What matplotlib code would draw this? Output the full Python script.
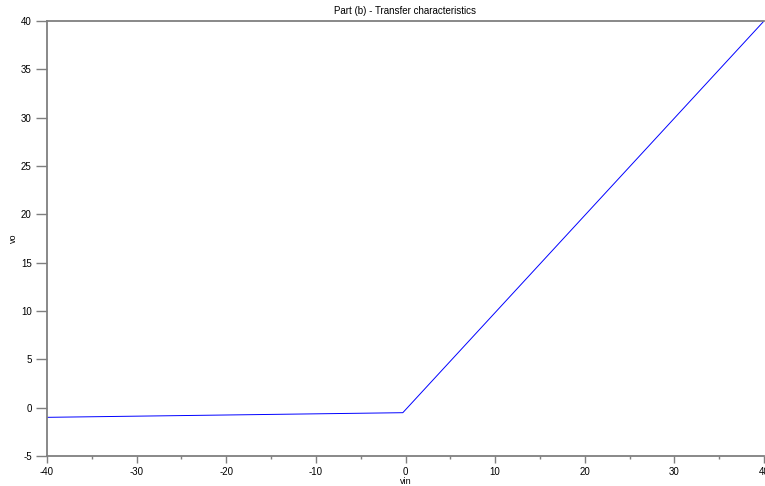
import matplotlib
matplotlib.use('Agg')
import matplotlib.pyplot as plt
from matplotlib.ticker import MultipleLocator

plt.rcParams['font.family'] = ['Liberation Sans', 'DejaVu Sans']
plt.rcParams['axes.unicode_minus'] = False

# transfer characteristic values
vin = [-40, -0.3, 40]
vo = [-1.0, -0.52, 40]

xticks = [-40, -30, -20, -10, 0, 10, 20, 30, 40]
yticks = [-5, 0, 5, 10, 15, 20, 25, 30, 35, 40]

W, H = 765, 486
fig = plt.figure(figsize=(W / 100, H / 100), dpi=100)
left, right, top, bottom = 47, 764, 21, 456
ax = fig.add_axes([left / W, 1 - bottom / H, (right - left) / W, (bottom - top) / H])

ax.plot(vin, vo, color='#0000ff', lw=0.7)

ax.set_xlim(-40, 40)
ax.set_ylim(-5, 40)
ax.set_xticks(xticks)
ax.set_yticks(yticks)
ax.xaxis.set_minor_locator(MultipleLocator(5))

grey = '#7f7f7f'
for s in ['left', 'bottom', 'top']:
    ax.spines[s].set_color(grey)
    ax.spines[s].set_linewidth(1.3)
ax.spines['right'].set_visible(False)

ax.tick_params(axis='x', which='major', length=5, width=1, color=grey, pad=3, labelsize=7)
ax.tick_params(axis='x', which='minor', length=2.5, width=1, color=grey)
ax.tick_params(axis='y', which='major', length=8, width=1, color=grey, pad=3, labelsize=7)

ax.set_title('Part (b) - Transfer characteristics', fontsize=7, pad=5)
ax.set_xlabel('vin', fontsize=6.5, labelpad=0)
ax.set_ylabel('vo', fontsize=6.5, labelpad=2)

fig.savefig('out.png', dpi=100)
